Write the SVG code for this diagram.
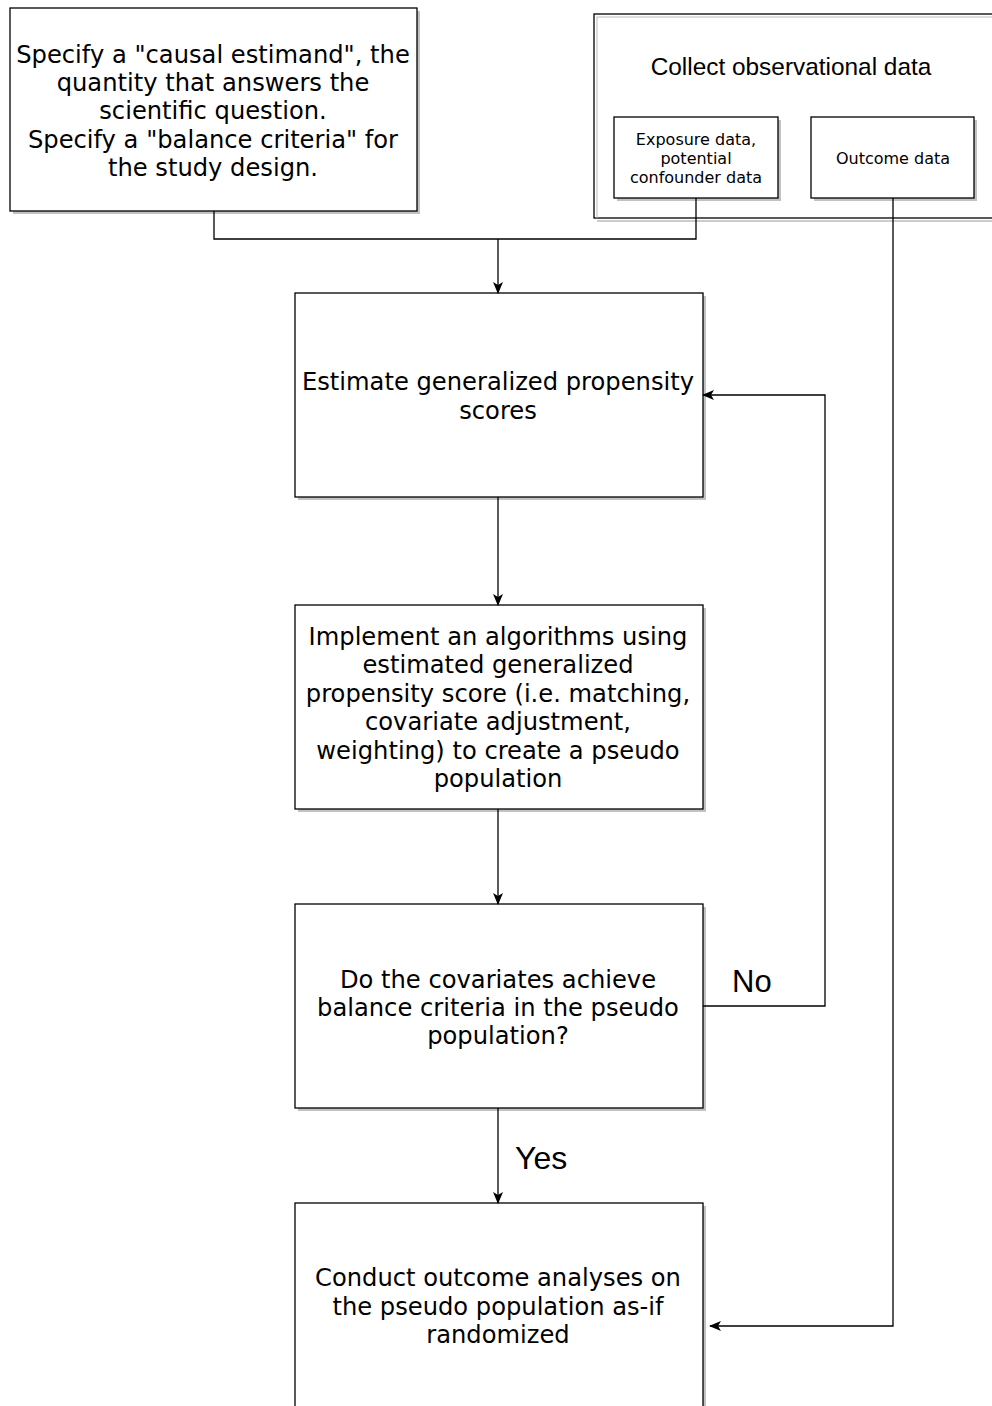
<svg xmlns="http://www.w3.org/2000/svg" width="992" height="1406" viewBox="0 0 992 1406">
<style>
.box{fill:#fff;stroke:#000;stroke-width:1.3}
.sh{fill:#999;opacity:0.6}
.t{font-family:"DejaVu Sans",Verdana,sans-serif;font-size:24.2px;fill:#000;text-anchor:middle}
.ts{font-family:"DejaVu Sans",Verdana,sans-serif;font-size:16px;fill:#000;text-anchor:middle}
.h{font-family:"Liberation Sans",Arial,sans-serif;fill:#000}
.c{fill:none;stroke:#000;stroke-width:1.3}
</style>
<defs>
<marker id="ah" viewBox="0 0 12 10" refX="11" refY="5" markerWidth="12" markerHeight="10" markerUnits="userSpaceOnUse" orient="auto">
<path d="M0,0 L12,5 L0,10 L3,5 Z" fill="#000"/>
</marker>
</defs>
<rect width="992" height="1406" fill="#fff"/>
<g id="n_specify">
<rect class="sh" x="13" y="11" width="407" height="203"/>
<rect class="box" x="10" y="8" width="407" height="203"/>
<text class="t" x="213" y="63">Specify a "causal estimand", the</text>
<text class="t" x="213" y="91">quantity that answers the</text>
<text class="t" x="213" y="119">scientific question.</text>
<text class="t" x="213" y="148">Specify a "balance criteria" for</text>
<text class="t" x="213" y="176">the study design.</text>
</g>
<g id="n_collect">
<rect x="594" y="14" width="410" height="204" fill="#fff" stroke="#000" stroke-width="1.3"/>
<path d="M597,218 V17 H1000" fill="none" stroke="#bbb" stroke-width="1"/>
<path d="M597,221 H1000" fill="none" stroke="#bbb" stroke-width="1.5"/>
<text class="h" x="791" y="75" font-size="24.4" text-anchor="middle">Collect observational data</text>
</g>
<g id="n_exposure">
<rect class="sh" x="617" y="120" width="164" height="81"/>
<rect class="box" x="614" y="117" width="164" height="81"/>
<text class="ts" x="696" y="145">Exposure data,</text>
<text class="ts" x="696" y="164">potential</text>
<text class="ts" x="696" y="183">confounder data</text>
</g>
<g id="n_outcome">
<rect class="sh" x="814" y="120" width="163" height="81"/>
<rect class="box" x="811" y="117" width="163" height="81"/>
<text class="ts" x="893" y="164">Outcome data</text>
</g>
<g id="n_estimate">
<rect class="sh" x="298" y="296" width="408" height="204"/>
<rect class="box" x="295" y="293" width="408" height="204"/>
<text class="t" x="498" y="390">Estimate generalized propensity</text>
<text class="t" x="498" y="419">scores</text>
</g>
<g id="n_implement">
<rect class="sh" x="298" y="608" width="408" height="204"/>
<rect class="box" x="295" y="605" width="408" height="204"/>
<text class="t" x="498" y="645">Implement an algorithms using</text>
<text class="t" x="498" y="673">estimated generalized</text>
<text class="t" x="498" y="702">propensity score (i.e. matching,</text>
<text class="t" x="498" y="730">covariate adjustment,</text>
<text class="t" x="498" y="759">weighting) to create a pseudo</text>
<text class="t" x="498" y="787">population</text>
</g>
<g id="n_balance">
<rect class="sh" x="298" y="907" width="408" height="204"/>
<rect class="box" x="295" y="904" width="408" height="204"/>
<text class="t" x="498" y="988">Do the covariates achieve</text>
<text class="t" x="498" y="1016">balance criteria in the pseudo</text>
<text class="t" x="498" y="1044">population?</text>
</g>
<g id="n_conduct">
<rect class="sh" x="298" y="1206" width="408" height="220"/>
<rect class="box" x="295" y="1203" width="408" height="220"/>
<text class="t" x="498" y="1286">Conduct outcome analyses on</text>
<text class="t" x="498" y="1315">the pseudo population as-if</text>
<text class="t" x="498" y="1343">randomized</text>
</g>
<g id="connectors">
<path class="c" d="M214,211 V239 H696 V198"/>
<path class="c" d="M498,239 V293" marker-end="url(#ah)"/>
<path class="c" d="M498,497 V605" marker-end="url(#ah)"/>
<path class="c" d="M498,809 V904" marker-end="url(#ah)"/>
<path class="c" d="M498,1108 V1203" marker-end="url(#ah)"/>
<path class="c" d="M703,1006 H825 V395 H703" marker-end="url(#ah)"/>
<path class="c" d="M893,198 V1326 H710" marker-end="url(#ah)"/>
<text class="h" x="732" y="992" font-size="31">No</text>
<text class="h" x="515" y="1169" font-size="32">Yes</text>
</g>
</svg>
